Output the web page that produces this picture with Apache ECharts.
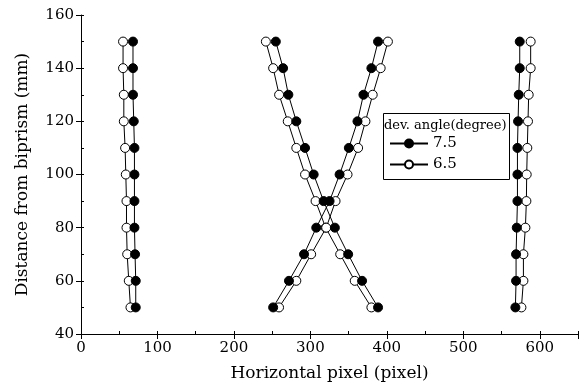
<!DOCTYPE html>
<html><head><meta charset="utf-8">
<script src="https://cdn.jsdelivr.net/npm/echarts@6/dist/echarts.min.js"></script>
<style>html,body{margin:0;padding:0;background:#fff}#c{width:581px;height:390px}</style>
</head><body><div id="c"></div>
<script>
const distances = [50,60,70,80,90,100,110,120,130,140,150];
const xTicks = [0,100,200,300,400,500,600];
const yTicks = [40,60,80,100,120,140,160];
const legendTitle = 'dev. angle(degree)';
const seriesNames = ['7.5','6.5'];
// dev. angle 7.5 (filled)
const a75_left   = [71.6,71.6,70.7,69.9,69.9,69.9,69.9,69.0,68.0,68.0,68.0];
const a75_crossA = [388.5,367.6,349.4,332.0,317.3,304.3,293.0,281.6,271.2,264.3,254.8];
const a75_crossB = [251.3,272.0,291.7,307.7,325.1,338.2,350.3,361.6,369.4,379.8,388.5];
const a75_right  = [568.1,569.0,569.0,569.9,570.8,570.8,570.8,571.6,572.5,573.8,573.8];
// dev. angle 6.5 (open)
const a65_left   = [64.7,62.5,60.4,59.5,59.5,58.6,57.7,56.0,56.0,55.0,55.0];
const a65_crossA = [379.8,358.0,339.0,320.0,306.8,293.0,281.6,270.4,259.1,251.3,241.8];
const a65_crossB = [259.0,281.6,301.0,320.7,332.9,348.6,362.4,372.0,381.5,391.9,401.4];
const a65_right  = [576.0,578.6,578.6,581.2,582.5,582.9,583.7,584.6,585.5,588.1,588.1];

const FONT = 'DejaVu Serif';
const pairs = xs => xs.map((x,i)=>[x,distances[i]]);
function mk(name, xs, filled){
  return {
    type:'line', name, data:pairs(xs), xAxisIndex:0, yAxisIndex:0,
    symbol:'circle', symbolSize:9, showSymbol:true,
    lineStyle:{color:'#000', width:1},
    itemStyle:{color: filled ? '#000' : '#fff', borderColor:'#000', borderWidth:1},
    z: filled ? 3 : 2, animation:false
  };
}
const series = [
  mk(seriesNames[1], a65_left, false), mk(seriesNames[1], a65_crossA, false),
  mk(seriesNames[1], a65_crossB, false), mk(seriesNames[1], a65_right, false),
  mk(seriesNames[0], a75_left, true), mk(seriesNames[0], a75_crossA, true),
  mk(seriesNames[0], a75_crossB, true), mk(seriesNames[0], a75_right, true)
];
const chart = echarts.init(document.getElementById('c'), null, {renderer:'canvas'});
const lbl = {color:'#000', fontFamily:FONT, fontSize:15};
chart.setOption({
  animation:false,
  backgroundColor:'#fff',
  grid:{left:81, right:2, top:15, bottom:56},
  xAxis:[
    {type:'value', min:0, max:650, interval:100,
     name:'Horizontal pixel (pixel)', nameLocation:'middle', nameGap:31,
     nameTextStyle:{color:'#000', fontFamily:FONT, fontSize:17},
     axisLine:{lineStyle:{color:'#000', width:1}},
     axisTick:{inside:false, length:5, lineStyle:{color:'#000'}},
     axisLabel:Object.assign({margin:7, formatter:v=>xTicks.includes(v)?String(v):''}, lbl),
     splitLine:{show:false}},
    {type:'value', min:0, max:650, interval:50, position:'bottom',
     axisLine:{show:false}, axisTick:{inside:true, length:3, lineStyle:{color:'#000'}},
     axisLabel:{show:false}, splitLine:{show:false}}
  ],
  yAxis:[
    {type:'value', min:40, max:160, interval:20,
     name:'Distance from biprism (mm)', nameLocation:'middle', nameGap:50,
     nameTextStyle:{color:'#000', fontFamily:FONT, fontSize:17},
     axisLine:{show:true, lineStyle:{color:'#000', width:1}},
     axisTick:{inside:false, length:5, lineStyle:{color:'#000'}},
     axisLabel:Object.assign({margin:7, formatter:v=>yTicks.includes(v)?String(v):''}, lbl),
     splitLine:{show:false}},
    {type:'value', min:40, max:160, interval:10, position:'left',
     axisLine:{show:false}, axisTick:{inside:true, length:3, lineStyle:{color:'#000'}},
     axisLabel:{show:false}, splitLine:{show:false}}
  ],
  legend:{
    data:seriesNames, orient:'vertical', left:389, top:136,
    itemWidth:38, itemHeight:10, itemGap:6, padding:0,
    textStyle:{color:'#000', fontFamily:FONT, fontSize:15},
    inactiveColor:'#000'
  },
  graphic:[
    {type:'rect', left:381, top:111, z:10, silent:true,
     shape:{width:126, height:66}, style:{fill:'none', stroke:'#000', lineWidth:1}},
    {type:'text', left:384, top:119, z:10, silent:true,
     style:{text:legendTitle, fill:'#000', font:'13px "DejaVu Serif"'}}
  ],
  series
});
</script></body></html>
